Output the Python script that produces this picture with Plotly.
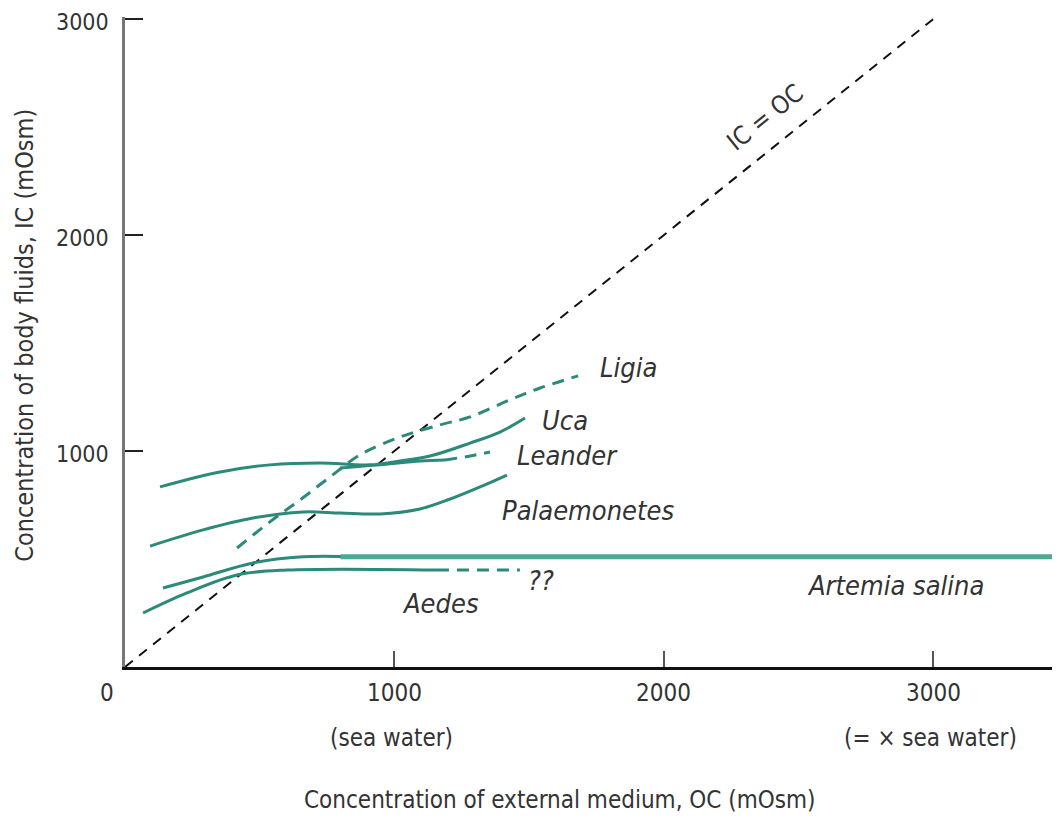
import plotly.graph_objects as go

# ---------------- data (mOsm) ----------------
ic_oc_x = [0, 3000]
ic_oc_y = [0, 3000]

uca_x = [130, 353, 538, 724, 909, 1021, 1132, 1281, 1392, 1485]
uca_y = [834, 903, 936, 945, 936, 954, 977, 1037, 1088, 1153]

leander_x = [798, 947, 1095, 1188]
leander_y = [922, 936, 954, 959]
leander_dash_x = [1188, 1281, 1355]
leander_dash_y = [959, 977, 996]

ligia_x = [416, 538, 650, 761, 872, 1021, 1169, 1281, 1429, 1541, 1682]
ligia_y = [551, 672, 774, 880, 982, 1065, 1121, 1158, 1237, 1292, 1348]

palaemonetes_x = [93, 290, 475, 661, 798, 947, 1095, 1207, 1318, 1418]
palaemonetes_y = [560, 635, 690, 718, 713, 709, 732, 778, 834, 889]

artemia_x = [141, 290, 475, 661, 846]
artemia_y = [366, 417, 482, 510, 510]
artemia_flat_x = [800, 3480]
artemia_flat_y = [510, 510]

aedes_x = [67, 230, 416, 601, 1158]
aedes_y = [250, 343, 426, 449, 449]
aedes_dash_x = [1158, 1466]
aedes_dash_y = [449, 449]

species_names = ["Ligia", "Uca", "Leander", "Palaemonetes", "??", "Aedes", "Artemia salina"]
species_lx = [1868, 1634, 1641, 1719, 1545, 1170, 2859]
species_ly = [1387, 1142, 980, 726, 402, 296, 379]

x_tick_vals = [0, 1000, 2000, 3000]
x_tick_text = ["0", "1000", "2000", "3000"]
x_tick_sub = ["", "(sea water)", "", "(= \u00d7 sea water)"]
y_tick_vals = [1000, 2000, 3000]
y_tick_text = ["1000", "2000", "3000"]

TEAL = "#2b8a79"
TEAL_LIGHT = "#4caa94"
TXT = "#333333"
FONT = "Liberation Sans Narrow, DejaVu Sans Condensed, Arial Narrow, sans-serif"

fig = go.Figure()

def add(x, y, color=TEAL, width=3, dash="solid", spline=True):
    fig.add_trace(go.Scatter(
        x=x, y=y, mode="lines",
        line=dict(color=color, width=width, dash=dash,
                  shape="spline" if spline else "linear", smoothing=1.0),
        hoverinfo="skip", showlegend=False))

add(ic_oc_x, ic_oc_y, color="#111111", width=2, dash="10px,8px", spline=False)
add(ligia_x, ligia_y, dash="12px,8px")
add(uca_x, uca_y)
add(leander_x, leander_y)
add(leander_dash_x, leander_dash_y, dash="12px,8px")
add(palaemonetes_x, palaemonetes_y)
add(artemia_x, artemia_y)
add(artemia_flat_x, artemia_flat_y, color=TEAL_LIGHT, width=5, spline=False)
add(aedes_x, aedes_y)
add(aedes_dash_x, aedes_dash_y, dash="12px,8px", spline=False)

ann = []
for name, lx, ly in zip(species_names, species_lx, species_ly):
    ann.append(dict(x=lx, y=ly, xref="x", yref="y", text="<i>%s</i>" % name,
                    showarrow=False, font=dict(size=27, color=TXT, family=FONT)))

ann.append(dict(x=2376, y=2543, xref="x", yref="y", text="IC = OC", textangle=-38.7,
                showarrow=False, font=dict(size=25, color=TXT, family=FONT)))

for v, t, s in zip(x_tick_vals, x_tick_text, x_tick_sub):
    ann.append(dict(x=v, y=0, xref="x", yref="y", text=t, showarrow=False,
                    yshift=-26, xshift=(-18 if v == 0 else 0), yanchor="middle",
                    font=dict(size=24, color=TXT, family=FONT)))
    if s:
        ann.append(dict(x=v, y=0, xref="x", yref="y", text=s, showarrow=False,
                        yshift=-71, xshift=-3, yanchor="middle",
                        font=dict(size=24, color=TXT, family=FONT)))

for v, t in zip(y_tick_vals, y_tick_text):
    ann.append(dict(x=0, y=v, xref="x", yref="y", text=t, showarrow=False,
                    xanchor="right", xshift=-14, yshift=-3, yanchor="middle",
                    font=dict(size=23, color=TXT, family=FONT)))

ann.append(dict(x=0.465, y=-0.205, xref="paper", yref="paper",
                text="Concentration of external medium, OC (mOsm)", showarrow=False,
                yanchor="middle", font=dict(size=24, color=TXT, family=FONT)))
ann.append(dict(x=-0.107, y=0.511, xref="paper", yref="paper",
                text="Concentration of body fluids, IC (mOsm)", showarrow=False,
                textangle=-90, xanchor="center", yanchor="middle",
                font=dict(size=25, color=TXT, family=FONT)))

fig.update_layout(
    width=1052, height=811,
    margin=dict(l=117, r=0, t=9, b=152),
    paper_bgcolor="white", plot_bgcolor="white",
    annotations=ann,
    xaxis=dict(range=[0, 3471], showgrid=False, zeroline=False,
               showline=True, linecolor="#111111", linewidth=3,
               ticks="inside", ticklen=16, tickwidth=2, tickcolor="#555555",
               tickvals=x_tick_vals, showticklabels=False, fixedrange=True),
    yaxis=dict(range=[0, 3010], showgrid=False, zeroline=False,
               showline=True, linecolor="#777777", linewidth=3,
               ticks="inside", ticklen=18, tickwidth=2, tickcolor="#222222",
               tickvals=y_tick_vals, showticklabels=False, fixedrange=True),
)

fig.write_html("out.html")
